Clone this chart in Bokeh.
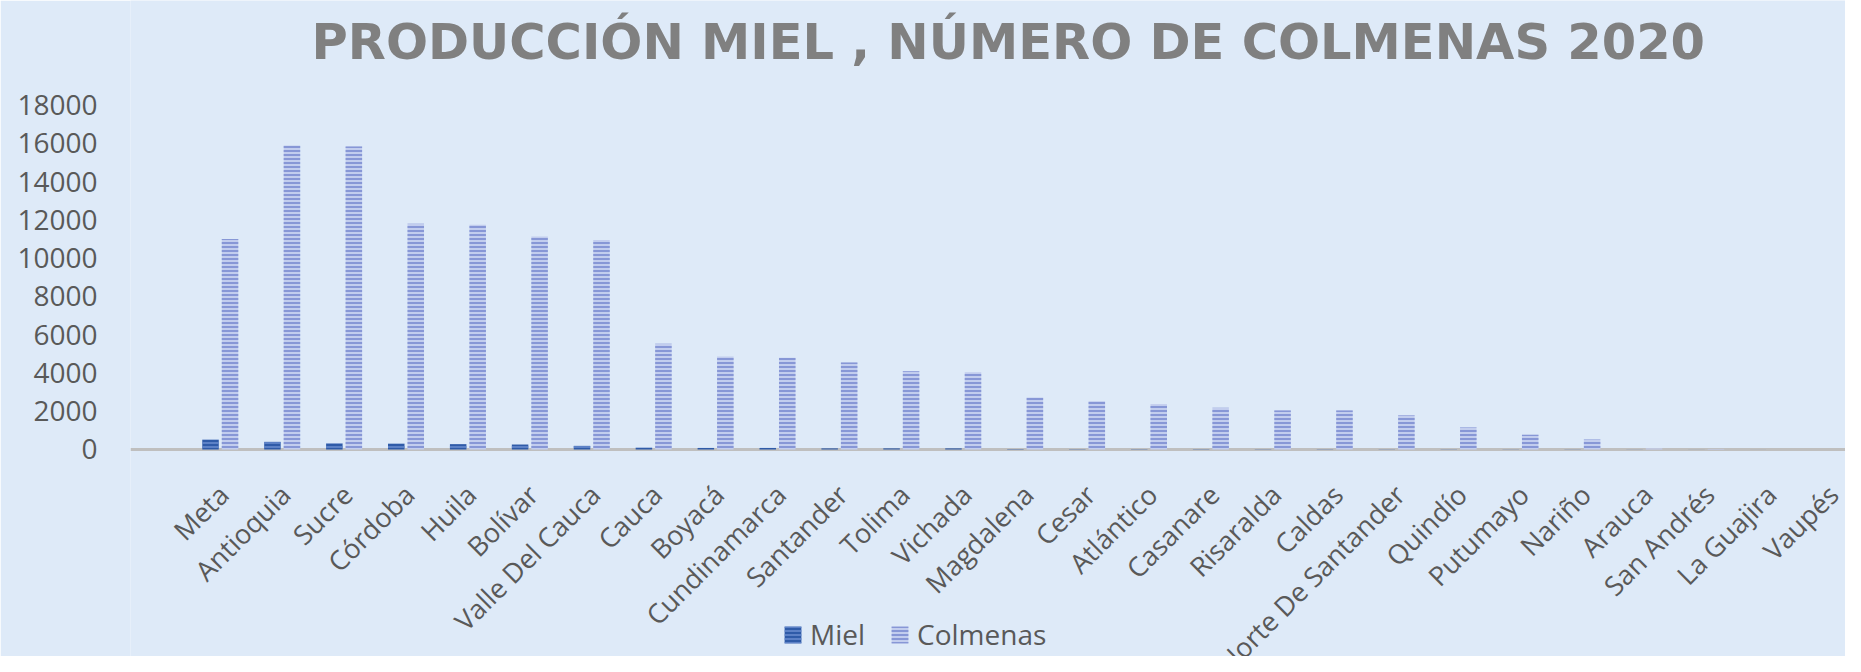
import math
from bokeh.plotting import figure
from bokeh.models import (Range1d, FixedTicker, Legend, LegendItem, ColumnDataSource,
                          Span, Label)
from bokeh.transform import dodge
from bokeh.embed import file_html
from bokeh.resources import INLINE
from bokeh.core.properties import value

departamentos = ["Meta", "Antioquia", "Sucre", "Córdoba", "Huila", "Bolívar",
                 "Valle Del Cauca", "Cauca", "Boyacá", "Cundinamarca", "Santander",
                 "Tolima", "Vichada", "Magdalena", "Cesar", "Atlántico", "Casanare",
                 "Risaralda", "Caldas", "Norte De Santander", "Quindío", "Putumayo",
                 "Nariño", "Arauca", "San Andrés", "La Guajira", "Vaupés"]
miel = [510, 400, 310, 300, 280, 260, 190, 90, 80, 80, 60, 60, 60,
        20, 15, 15, 15, 12, 12, 10, 10, 8, 8, 5, 3, 2, 1]
colmenas = [11000, 15880, 15830, 11790, 11740, 11130, 10940, 5520, 4860, 4790,
            4545, 4090, 4040, 2720, 2525, 2370, 2180, 2040, 2040, 1780, 1150,
            770, 520, 60, 30, 0, 0]
y_ticks = [0, 2000, 4000, 6000, 8000, 10000, 12000, 14000, 16000, 18000]
title_text = "PRODUCCIÓN MIEL , NÚMERO DE COLMENAS 2020"

BG = "#DEEAF8"
TXT = "#595959"
FONT = "Open Sans"

idx = list(range(len(departamentos)))
src = ColumnDataSource(dict(x=idx, miel=miel, colmenas=colmenas, name=departamentos))

# the frame fills the whole height; y=0 sits at 449px, 18000 at ~104px
p = figure(width=1845, height=656, output_backend="svg", toolbar_location=None,
           x_range=Range1d(-1.45, 26.25), y_range=Range1d(-10816, 23460),
           background_fill_color=BG, border_fill_color=BG,
           min_border_left=130, min_border_right=0, min_border_top=0,
           min_border_bottom=0, outline_line_color=None)

p.xaxis.visible = False
p.xgrid.visible = False
p.ygrid.visible = False

title = Label(text=title_text, x=181, y=615, x_units="screen", y_units="screen",
              text_font="DejaVu Sans", text_font_size="49.5px", text_font_style="bold",
              text_color="#808080", text_baseline="alphabetic", text_align="left")
p.add_layout(title)

zero = Span(location=0, dimension="width", line_color="#BFBFBF", line_width=3,
            level="underlay")
p.add_layout(zero)

bw = 0.2666
off = 0.1575
r1 = p.vbar(x=dodge("x", -off, range=p.x_range), top="miel", width=bw, source=src,
            fill_color="#2F5BA8", line_color=None,
            hatch_pattern="horizontal_line", hatch_color="#6A8ED0",
            hatch_scale=4, hatch_weight=1.5)
r2 = p.vbar(x=dodge("x", off, range=p.x_range), top="colmenas", width=bw, source=src,
            fill_color="#C2CDEE", line_color=None,
            hatch_pattern="horizontal_line", hatch_color="#8797D6",
            hatch_scale=4, hatch_weight=2)

p.text(x="x", y=0, text="name", source=src, angle=math.pi / 4,
       text_align="right", text_baseline="top", x_offset=-10, y_offset=27,
       text_font=value(FONT), text_font_size="27px", text_color=TXT)

ya = p.yaxis[0]
ya.ticker = FixedTicker(ticks=y_ticks)
ya.major_label_text_font = FONT
ya.major_label_text_font_size = "28px"
ya.major_label_text_color = TXT
ya.major_label_standoff = 27
ya.major_tick_line_color = None
ya.minor_tick_line_color = None
ya.axis_line_color = None

legend = Legend(items=[LegendItem(label="Miel", renderers=[r1]),
                       LegendItem(label="Colmenas", renderers=[r2])],
                orientation="horizontal", location=(652, 3),
                background_fill_alpha=0, border_line_color=None,
                glyph_width=21, glyph_height=21, label_standoff=7, spacing=24,
                padding=0, margin=0,
                label_text_font=FONT, label_text_font_size="28px",
                label_text_color=TXT)
p.add_layout(legend, "center")

open("out.html", "w").write(file_html(p, INLINE))
